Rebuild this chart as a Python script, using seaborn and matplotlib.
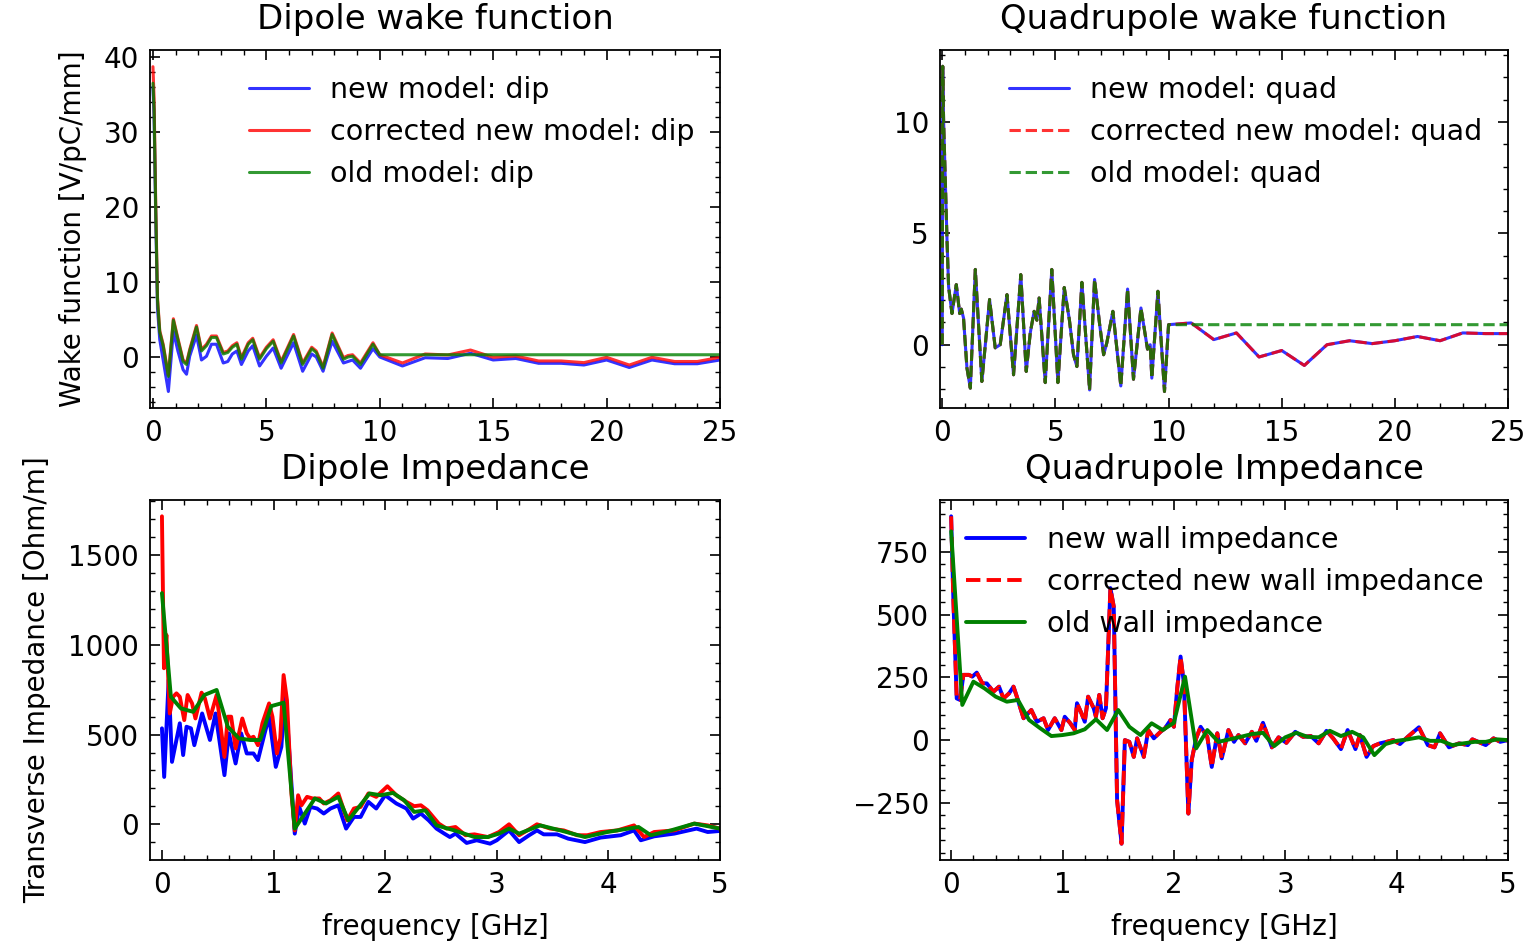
import numpy as np
import pandas as pd
import matplotlib
matplotlib.use("Agg")
import matplotlib.pyplot as plt
import seaborn as sns

# ---------------- data ----------------
# Dipole wake function (distance axis, 0..25)
dw_x = [0.0, 0.05, 0.12, 0.2, 0.3, 0.45, 0.68, 0.9, 1.1, 1.33,
        1.48, 1.62, 1.92, 2.14, 2.36, 2.58, 2.8, 3.1, 3.3, 3.5,
        3.7, 3.9, 4.2, 4.4, 4.7, 5.0, 5.3, 5.65, 6.2, 6.6,
        7.0, 7.2, 7.5, 7.9, 8.4, 8.6, 8.8, 9.15, 9.7, 10.0,
        11, 12, 13, 14, 15, 16, 17, 18, 19, 20, 21, 22, 23, 24, 25]
dw_new = [36, 32, 19, 6.5, 2.3, -0.4, -4.6, 3.4, 0.8, -1.7,
          -2.3, 0.1, 2.9, -0.4, 0.1, 1.7, 1.7, -0.8, -0.6, 0.4,
          0.8, -1.0, 0.8, 1.5, -1.2, 0.1, 1.2, -1.5, 1.9, -1.9,
          0.4, 0.0, -1.9, 2.1, -0.8, -0.6, -0.4, -1.5, 1.1, 0.0,
          -1.2, -0.1, -0.2, 0.5, -0.4, -0.2, -0.84, -0.84, -1.07, -0.4, -1.4, -0.4, -0.9, -0.9, -0.4]
dw_corr = [38.7, 34.5, 21, 8, 3.5, 1.7, -2.4, 5.1, 2.5, -0.4,
           -0.8, 1.0, 4.2, 1.0, 1.7, 2.8, 2.8, 0.6, 0.8, 1.5,
           1.9, -0.1, 1.9, 2.5, -0.1, 1.3, 2.3, -0.6, 3.0, -0.8,
           1.3, 0.8, -1.3, 3.2, -0.1, 0.2, 0.3, -0.8, 1.9, 0.3,
           -0.8, 0.4, 0.27, 0.93, -0.04, 0.13, -0.53, -0.53, -0.75, -0.04, -1.07, -0.04, -0.6, -0.6, -0.04]
dw_old = [36.5, 33, 20, 7.6, 3.3, 1.5, -2.6, 4.9, 2.3, -0.6,
          -1.0, 0.8, 4.0, 0.8, 1.5, 2.6, 2.6, 0.4, 0.6, 1.3,
          1.7, -0.3, 1.7, 2.3, -0.3, 1.1, 2.1, -0.8, 2.8, -1.0,
          1.1, 0.6, -1.5, 3.0, -0.3, 0.0, 0.1, -1.0, 1.7, 0.3,
          0.3, 0.3, 0.3, 0.3, 0.3, 0.3, 0.3, 0.3, 0.3, 0.3, 0.3, 0.3, 0.3, 0.3, 0.3]

# Quadrupole wake function
qw_x = [0.0, 0.02, 0.06, 0.21, 0.28, 0.43, 0.62, 0.77, 0.84, 0.94, 1.09,
        1.24, 1.46, 1.75, 2.09, 2.34, 2.56, 2.86, 3.15, 3.47, 3.71,
        3.89, 4.06, 4.18, 4.28, 4.55, 4.84, 5.11, 5.39, 5.62, 5.8,
        5.95, 6.17, 6.51, 6.73, 6.95, 7.13, 7.27, 7.54, 7.89, 8.19,
        8.45, 8.78, 9.07, 9.19, 9.26, 9.53, 9.82, 10.0,
        11, 12, 13, 14, 15, 16, 17, 18, 19, 20, 21, 22, 23, 24, 25]
qw_new = [0.0, 12.5, 10.0, 4.7, 2.6, 1.4, 2.7, 1.4, 1.6, 1.2, -1.04,
          -1.95, 3.38, -1.65, 2.03, -0.14, 0.0, 2.25, -1.35, 3.15, -1.2,
          0.54, 1.5, 1.1, 2.1, -1.7, 3.38, -1.7, 2.57, 1.1, -0.45,
          -0.98, 2.8, -2.03, 2.93, 0.95, -0.45, 0.08, 1.5, -1.85, 2.5,
          -1.55, 1.65, -0.2, 0.0, -1.5, 2.4, -2.1, 0.9,
          0.98, 0.23, 0.53, -0.55, -0.26, -0.93, 0.0, 0.18, 0.05, 0.18, 0.37, 0.18, 0.53, 0.5, 0.5]
qw_corr = list(qw_new)
qw_old = qw_new[:49] + [0.9] * 15

# Dipole impedance (GHz)
di_new_x = [0.0, 0.02, 0.06, 0.09, 0.16, 0.19, 0.22, 0.26, 0.29, 0.36,
            0.43, 0.48, 0.56, 0.6, 0.66, 0.71, 0.76, 0.82, 0.86, 0.92,
            0.96, 1.02, 1.07, 1.1, 1.13, 1.19, 1.23, 1.28, 1.33, 1.39,
            1.45, 1.51, 1.58, 1.65, 1.72, 1.78, 1.85, 1.92, 2.0, 2.1,
            2.19, 2.25, 2.32, 2.39, 2.46, 2.53, 2.58, 2.63, 2.73, 2.82,
            2.94, 3.0, 3.11, 3.2, 3.29, 3.36, 3.42, 3.54, 3.64, 3.79,
            3.93, 4.11, 4.23, 4.29, 4.41, 4.59, 4.79, 4.89, 5.0]
di_new = [535, 264, 805, 348, 563, 386, 544, 535, 441, 618,
          470, 618, 274, 507, 339, 507, 395, 395, 358, 507,
          600, 320, 432, 711, 507, -52, 97, 4, 97, 88,
          60, 88, 106, -24, 41, 41, 125, 88, 162, 116,
          88, 32, 60, 22, -24, -52, -71, -52, -104, -89,
          -108, -89, -34, -99, -61, -34, -56, -56, -80, -99,
          -74, -61, -34, -89, -67, -52, -24, -43, -37]
di_corr_x = [0.0, 0.018, 0.04, 0.07, 0.1, 0.13, 0.16, 0.2, 0.23, 0.27,
             0.3, 0.355, 0.385, 0.43, 0.49, 0.56, 0.59, 0.62, 0.66, 0.72,
             0.76, 0.79, 0.82, 0.86, 0.9, 0.96, 0.99, 1.03, 1.06, 1.09,
             1.12, 1.16, 1.19, 1.22, 1.25, 1.3, 1.35, 1.41, 1.45, 1.51,
             1.58, 1.66, 1.72, 1.78, 1.85, 1.92, 2.02, 2.1, 2.19, 2.26,
             2.32, 2.38, 2.48, 2.55, 2.63, 2.72, 2.8, 2.92, 3.02, 3.11,
             3.2, 3.3, 3.36, 3.48, 3.6, 3.72, 3.81, 3.93, 4.08, 4.23,
             4.32, 4.41, 4.59, 4.77, 4.89, 5.0]
di_corr = [1717, 870, 1056, 618, 711, 730, 711, 581, 721, 674,
           590, 734, 702, 590, 721, 376, 600, 600, 423, 590,
           507, 479, 488, 441, 563, 674, 600, 395, 479, 832,
           693, 172, -34, 162, 106, 153, 144, 144, 116, 134,
           172, 22, 88, 97, 172, 153, 212, 162, 125, 101,
           106, 78, 4, -24, -15, -61, -56, -71, -43, 0,
           -61, -24, 0, -24, -34, -61, -61, -43, -34, -6,
           -71, -43, -34, 4, -6, -24]
di_old_x = [0, 0.08, 0.17, 0.28, 0.38, 0.49, 0.59, 0.69, 0.79, 0.88,
            0.98, 1.09, 1.19, 1.37, 1.47, 1.58, 1.67, 1.86, 1.96, 2.07,
            2.17, 2.26, 2.36, 2.46, 2.62, 2.8, 2.92, 3.02, 3.11, 3.2,
            3.39, 3.57, 3.79, 3.99, 4.27, 4.38, 4.56, 4.77, 5.0]
di_old = [1289, 711, 646, 627, 721, 749, 544, 479, 470, 470,
          659, 678, -24, 144, 116, 153, 22, 172, 162, 175,
          134, 69, 78, -6, -34, -71, -71, -52, -24, -52,
          -6, -34, -71, -43, -15, -61, -34, 4, -24]

# Quadrupole impedance (GHz)
qi_x = [0.0, 0.02, 0.05, 0.08, 0.11, 0.16, 0.19, 0.23, 0.28, 0.32,
        0.38, 0.43, 0.47, 0.52, 0.56, 0.59, 0.65, 0.72, 0.77, 0.83,
        0.87, 0.93, 0.99, 1.02, 1.07, 1.11, 1.13, 1.17, 1.2, 1.23,
        1.28, 1.3, 1.33, 1.36, 1.39, 1.43, 1.46, 1.49, 1.53, 1.56,
        1.6, 1.64, 1.67, 1.73, 1.77, 1.82, 1.88, 1.92, 1.97, 2.0,
        2.03, 2.06, 2.09, 2.13, 2.16, 2.2, 2.24, 2.3, 2.34, 2.39,
        2.43, 2.49, 2.54, 2.58, 2.64, 2.7, 2.74, 2.8, 2.88, 2.94,
        3.01, 3.09, 3.16, 3.23, 3.3, 3.37, 3.43, 3.5, 3.56, 3.63,
        3.67, 3.73, 3.79, 3.85, 3.91, 3.97, 4.03, 4.1, 4.2, 4.28,
        4.34, 4.39, 4.47, 4.56, 4.64, 4.68, 4.8, 4.87, 4.93, 5.0]
qi_new = [892, 559, 166, 160, 260, 260, 253, 269, 226, 226,
          193, 213, 166, 186, 213, 173, 87, 120, 73, 87,
          40, 87, 40, 93, 67, 40, 147, 107, 73, 173,
          127, 93, 180, 87, 127, 606, 532, -240, -413, 0,
          -7, -67, 7, -67, 40, 7, 33, 47, 80, 53,
          206, 333, 226, -293, -80, 7, 53, 13, -107, 27,
          -73, 40, -7, 20, -13, 33, -3, 69, -29, 11,
          -11, 33, 13, 16, -13, 37, 7, -36, 40, -36,
          20, -67, -24, -13, -7, 0, -16, 13, 51, -20,
          -29, 27, -29, -13, -20, 3, -20, 7, -7, 0]
qi_corr = list(qi_new)
qi_old_x = [0.0, 0.1, 0.2, 0.3, 0.4, 0.5, 0.6, 0.7, 0.8, 0.9,
            1.0, 1.1, 1.2, 1.3, 1.4, 1.5, 1.6, 1.7, 1.8, 1.9,
            2.0, 2.1, 2.2, 2.3, 2.4, 2.5, 2.6, 2.7, 2.8, 2.9,
            3.0, 3.1, 3.2, 3.3, 3.4, 3.5, 3.6, 3.7, 3.8, 3.9,
            4.0, 4.1, 4.2, 4.3, 4.4, 4.5, 4.6, 4.7, 4.8, 4.9, 5.0]
qi_old = [832, 140, 233, 206, 173, 153, 160, 80, 47, 16,
          20, 27, 43, 83, 40, 120, 53, 20, 67, 40,
          69, 253, -33, 40, -7, 3, 13, 24, 29, -24,
          11, 29, 13, 11, 37, 16, 33, 11, -60, -16,
          -3, 3, 11, -3, -3, -20, -13, -7, -7, 3, 0]

# ---------------- style ----------------
sns.set_style("ticks")
plt.rcParams.update({
    'font.family': ['DejaVu Sans'],
    'xtick.direction': 'in', 'ytick.direction': 'in',
    'xtick.top': True, 'ytick.right': True,
    'xtick.bottom': True, 'ytick.left': True,
    'xtick.minor.visible': True, 'ytick.minor.visible': True,
    'xtick.major.size': 7, 'ytick.major.size': 7,
    'xtick.minor.size': 3.5, 'ytick.minor.size': 3.5,
    'xtick.major.width': 1.2, 'ytick.major.width': 1.2,
    'xtick.minor.width': 1.0, 'ytick.minor.width': 1.0,
    'xtick.major.pad': 8, 'ytick.major.pad': 8,
    'axes.edgecolor': 'black', 'axes.linewidth': 1.3,
    'xtick.color': 'black', 'ytick.color': 'black',
    'xtick.labelsize': 20, 'ytick.labelsize': 20,
    'axes.labelsize': 20, 'axes.titlesize': 24.5, 'legend.fontsize': 20.5,
    'axes.titlepad': 15,
    'axes.labelcolor': 'black', 'text.color': 'black',
})

W, H = 1527, 943
fig = plt.figure(figsize=(W / 100, H / 100), dpi=100)
fig.patch.set_facecolor('white')

def add_ax(l, t, r, b):
    return fig.add_axes([l / W, 1 - b / H, (r - l) / W, (b - t) / H])

ax1 = add_ax(150, 50, 720, 408)
ax2 = add_ax(940, 50, 1508, 408)
ax3 = add_ax(150, 500, 720, 860)
ax4 = add_ax(940, 500, 1508, 860)

lw_top = 2.2
lw_bot = 2.8
leg_kw = dict(frameon=False, labelspacing=0.5, handlelength=2.1, handletextpad=0.75)

def line(ax, x, y, **kw):
    sns.lineplot(x=x, y=y, ax=ax, sort=False, estimator=None, **kw)

# Dipole wake
line(ax1, dw_x, dw_new, color='b', alpha=0.8, lw=lw_top, label='new model: dip')
line(ax1, dw_x, dw_corr, color='r', alpha=0.8, lw=lw_top, label='corrected new model: dip')
line(ax1, dw_x, dw_old, color='g', alpha=0.8, lw=lw_top, label='old model: dip')
ax1.set_xlim(-0.13, 25)
ax1.set_ylim(-6.8, 40.93)
ax1.set_xticks([0, 5, 10, 15, 20, 25])
ax1.set_yticks([0, 10, 20, 30, 40])
ax1.set_title('Dipole wake function')
ax1.set_ylabel('Wake function [V/pC/mm]', labelpad=12)
ax1.legend(loc='upper right', **leg_kw)

# Quadrupole wake
line(ax2, qw_x, qw_new, color='b', alpha=0.8, lw=lw_top, label='new model: quad')
line(ax2, qw_x, qw_corr, color='r', alpha=0.8, lw=lw_top, linestyle='--', label='corrected new model: quad')
line(ax2, qw_x, qw_old, color='g', alpha=0.8, lw=lw_top, linestyle='--', label='old model: quad')
ax2.set_xlim(-0.1, 25)
ax2.set_ylim(-2.84, 13.23)
ax2.set_xticks([0, 5, 10, 15, 20, 25])
ax2.set_yticks([0, 5, 10])
ax2.set_title('Quadrupole wake function')
ax2.legend(loc='upper right', **leg_kw)

# Dipole impedance
line(ax3, di_new_x, di_new, color='b', lw=lw_bot)
line(ax3, di_corr_x, di_corr, color='r', lw=lw_bot)
line(ax3, di_old_x, di_old, color='g', lw=lw_bot)
ax3.set_xlim(-0.107, 5)
ax3.set_ylim(-199, 1808)
ax3.set_xticks([0, 1, 2, 3, 4, 5])
ax3.set_yticks([0, 500, 1000, 1500])
ax3.set_title('Dipole Impedance')
ax3.set_xlabel('frequency [GHz]', labelpad=10)
ax3.set_ylabel('Transverse Impedance [Ohm/m]', labelpad=12)

# Quadrupole impedance
line(ax4, qi_x, qi_new, color='b', lw=lw_bot, label='new wall impedance')
line(ax4, qi_x, qi_corr, color='r', lw=lw_bot, linestyle='--', label='corrected new wall impedance')
line(ax4, qi_old_x, qi_old, color='g', lw=lw_bot, label='old wall impedance')
ax4.set_xlim(-0.1, 5)
ax4.set_ylim(-478, 957)
ax4.set_xticks([0, 1, 2, 3, 4, 5])
ax4.set_yticks([-250, 0, 250, 500, 750])
ax4.set_title('Quadrupole Impedance')
ax4.set_xlabel('frequency [GHz]', labelpad=10)
ax4.legend(loc='upper left', **leg_kw)

for ax in (ax1, ax2, ax3, ax4):
    ax.tick_params(which='both', top=True, right=True, direction='in')
    ax.set_facecolor('white')
    for s in ax.spines.values():
        s.set_visible(True)
        s.set_color('black')

fig.savefig('out.png', dpi=100, facecolor='white')
